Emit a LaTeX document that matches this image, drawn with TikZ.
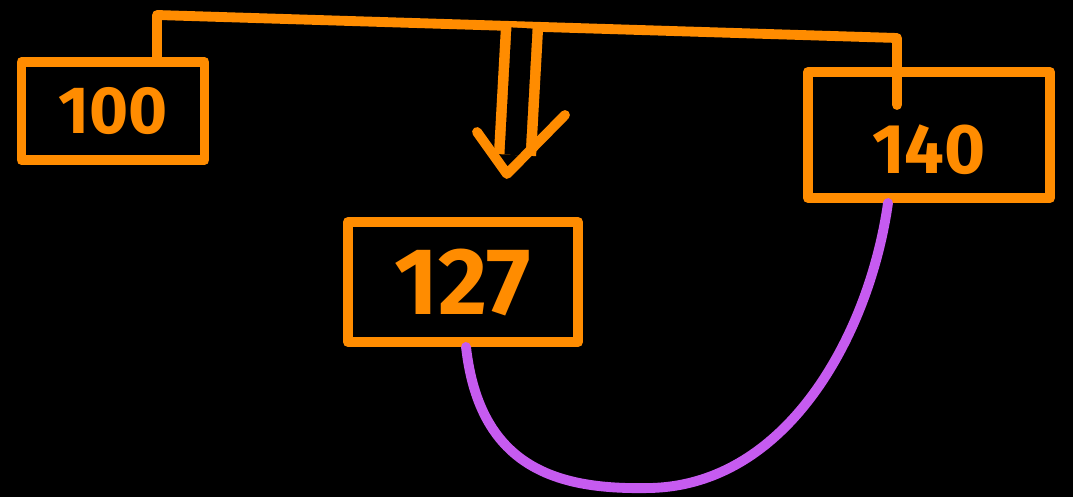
\documentclass[tikz,border=0pt]{standalone}
\usepackage{fontspec}
\setmainfont{Fira Sans}
\usepackage{tikz}
\usetikzlibrary{arrows.meta,positioning,calc}

\definecolor{inkorange}{HTML}{FF8C00}
\definecolor{inkpurple}{HTML}{C65BF0}

\tikzset{
  ink/.style={draw=inkorange, line width=2.8pt, line cap=round, line join=round},
  valbox/.style={ink, rectangle, text=inkorange, inner sep=0pt},
}

\begin{document}
\begin{tikzpicture}[x=0.01cm, y=-0.01cm]
    % Background
    \fill[black] (0,0) rectangle (1073,497);
    \useasboundingbox (0,0) rectangle (1073,497);

    % Boxes
    \node[valbox, minimum width=1.83cm, minimum height=0.98cm, font=\bfseries\fontsize{19}{19}\selectfont] (n100) at (113,111) {100};
    \node[valbox, minimum width=2.30cm, minimum height=1.20cm, font=\bfseries\fontsize{27}{27}\selectfont] (n127) at (463,282) {127};
    \node[valbox, minimum width=2.42cm, minimum height=1.26cm, font=\bfseries\fontsize{20}{20}\selectfont, text height=22pt, text depth=0pt] (n140) at (929,135) {140};

    % Top link from 100 over to 140
    \coordinate (t1) at (157,15);
    \coordinate (t2) at (897,38);
    \coordinate (stub) at (897,105);
    \draw[ink] (n100.north -| t1) -- (t1) -- (t2) -- (stub);

    % Double arrow pointing down to 127
    \coordinate (a1) at (522,28);
    \coordinate (a2) at (515,155);
    \coordinate (tip) at (507,174);
    \draw[draw=inkorange, double=black, double distance=6pt, line width=3pt] (a1) -- (a2);
    \draw[ink] ($(tip)+(-30,-42)$) -- (tip) -- ($(tip)+(58,-59)$);

    % Purple curve from 127 to 140
    \draw[draw=inkpurple, line width=2.8pt, line cap=round]
        (n127.south -| 466,0) .. controls (480,470) and (560,490) .. (650,488)
        .. controls (790,485) and (870,330) .. (n140.south -| 888,0);
\end{tikzpicture}
\end{document}
